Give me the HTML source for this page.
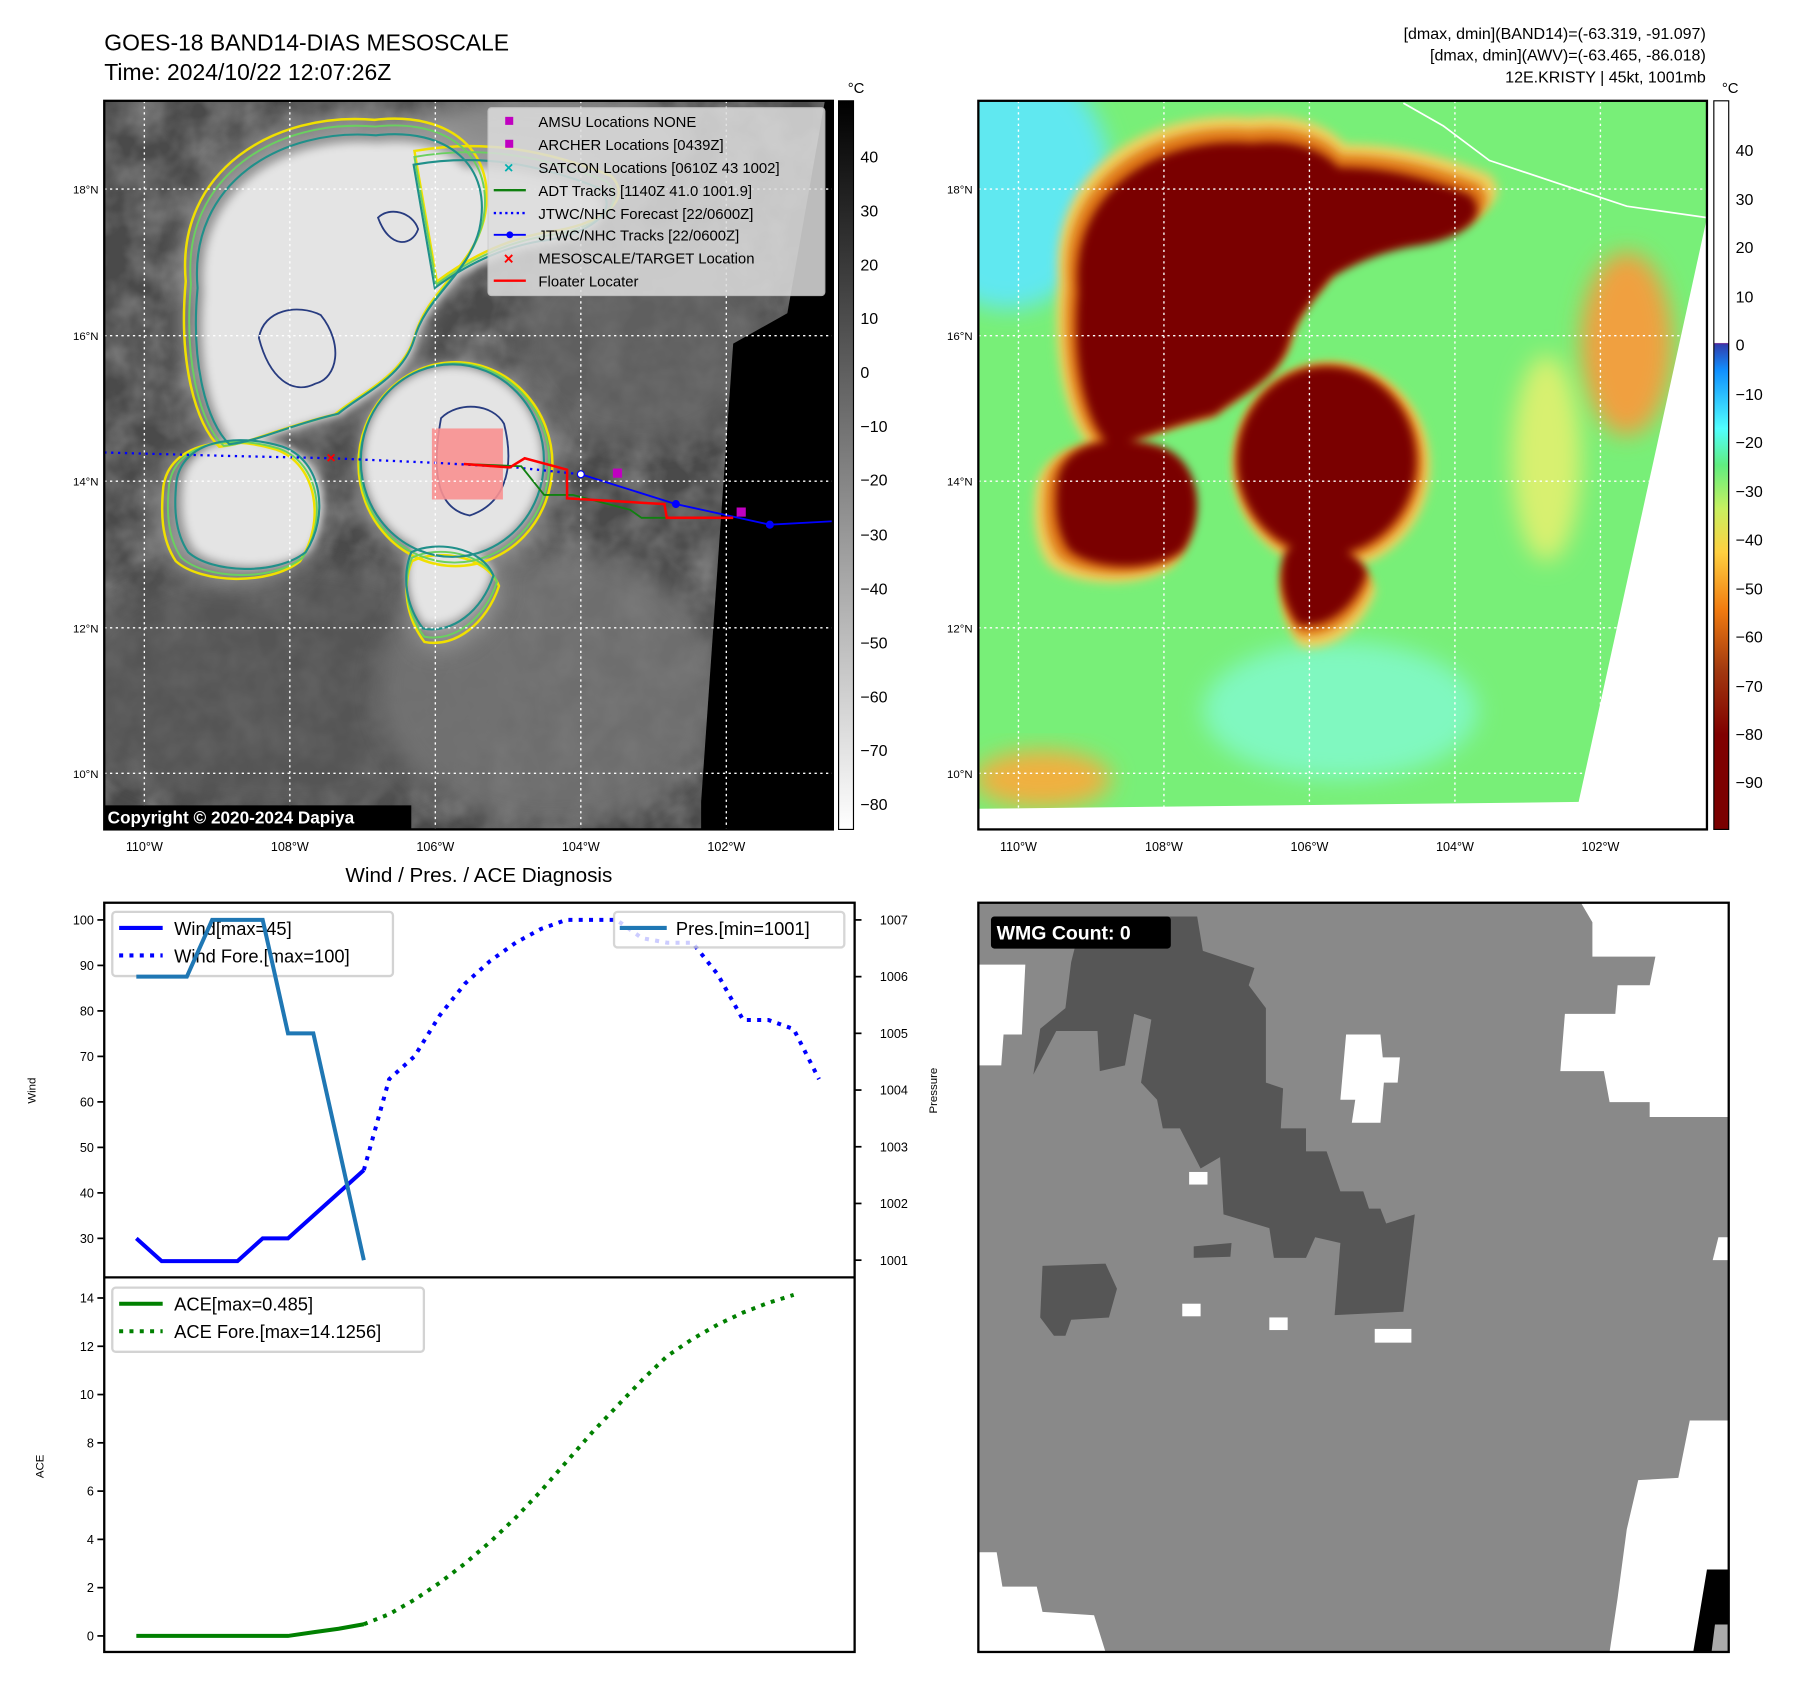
<!DOCTYPE html>
<html><head><meta charset="utf-8"><style>
html,body{margin:0;padding:0;background:#fff}
svg{display:block;font-family:"Liberation Sans","DejaVu Sans",sans-serif}
</style></head><body>
<svg id="root" width="1797" height="1690" viewBox="0 0 1568.6 1475" preserveAspectRatio="xMinYMin meet" xmlns="http://www.w3.org/2000/svg">
<defs>
<filter id="blur4" x="-20%" y="-20%" width="140%" height="140%"><feGaussianBlur stdDeviation="4"/></filter>
<filter id="blur10" x="-30%" y="-30%" width="160%" height="160%"><feGaussianBlur stdDeviation="10"/></filter>
<filter id="noise" x="0" y="0" width="100%" height="100%"><feTurbulence type="fractalNoise" baseFrequency="0.035" numOctaves="3" seed="4"/><feColorMatrix type="matrix" values="0 0 0 0 0.5  0 0 0 0 0.5  0 0 0 0 0.5  1.2 0 0 0 -0.35"/></filter>
<clipPath id="clipL"><rect x="91" y="88" width="636" height="636"/></clipPath>
<clipPath id="clipR"><rect x="854" y="88" width="636" height="636"/></clipPath>
<clipPath id="clipB"><rect x="854" y="788" width="655" height="654"/></clipPath>
<linearGradient id="cbGray" x1="0" y1="0" x2="0" y2="1"><stop offset="0" stop-color="#000"/><stop offset="1" stop-color="#fff"/></linearGradient>
<linearGradient id="cbColor" x1="0" y1="1" x2="0" y2="0">
<stop offset="0" stop-color="#7a0000"/><stop offset="0.13" stop-color="#800000"/><stop offset="0.22" stop-color="#a33a10"/><stop offset="0.3" stop-color="#f07a10"/><stop offset="0.38" stop-color="#ffd040"/><stop offset="0.44" stop-color="#c8f060"/><stop offset="0.5" stop-color="#60ee80"/><stop offset="0.55" stop-color="#50ffff"/><stop offset="0.63" stop-color="#1090ff"/><stop offset="0.665" stop-color="#3040b0"/><stop offset="0.667" stop-color="#602090"/><stop offset="0.668" stop-color="#fff"/><stop offset="1" stop-color="#fff"/></linearGradient>
<g id="cloudMain">
<path d="M178,255 C170,165 250,118 330,125 C390,118 430,150 418,205 C408,245 372,262 362,300 C352,332 318,345 298,362 C255,372 232,385 205,388 C186,370 172,320 178,255 Z"/>
<path d="M362,150 C420,140 470,150 520,170 C540,190 510,210 470,215 C430,222 400,240 380,255 Z"/>
<path d="M160,420 C165,385 210,378 250,390 C285,402 290,450 270,480 C245,500 190,498 170,480 C158,462 158,440 160,420 Z"/>
<ellipse cx="395" cy="402" rx="78" ry="82"/>
<path d="M360,480 C380,470 420,475 430,500 C420,530 395,550 370,545 C355,525 352,500 360,480 Z"/>
</g>
</defs>

<text x="91" y="44" font-size="20" fill="#000">GOES-18 BAND14-DIAS MESOSCALE</text>
<text x="91" y="70" font-size="20" fill="#000">Time: 2024/10/22 12:07:26Z</text>
<g font-size="14" text-anchor="end" fill="#000">
<text x="1489" y="34">[dmax, dmin](BAND14)=(-63.319, -91.097)</text>
<text x="1489" y="53">[dmax, dmin](AWV)=(-63.465, -86.018)</text>
<text x="1489" y="72">12E.KRISTY | 45kt, 1001mb</text>
</g>

<!-- LEFT MAP -->
<g clip-path="url(#clipL)">
<rect x="91" y="88" width="636" height="636" fill="#4a4a4a"/>
<rect x="91" y="88" width="636" height="636" filter="url(#noise)" opacity="0.6"/>
<ellipse cx="250" cy="600" rx="200" ry="110" fill="#5a5a5a" filter="url(#blur10)" opacity="0.7"/>
<ellipse cx="480" cy="600" rx="150" ry="120" fill="#777" filter="url(#blur10)" opacity="0.8"/>
<ellipse cx="560" cy="300" rx="110" ry="90" fill="#686868" filter="url(#blur10)" opacity="0.7"/>
<ellipse cx="480" cy="120" rx="120" ry="40" fill="#8a8a8a" filter="url(#blur10)"/>
<use href="#cloudMain" fill="#9a9a9a" transform="translate(-35,-35) scale(1.1)" filter="url(#blur10)"/>
<use href="#cloudMain" fill="#e4e4e4" filter="url(#blur4)"/>
<use href="#cloudMain" fill="none" stroke="#f0e000" stroke-width="2" transform="translate(-31,-31) scale(1.085)"/>
<use href="#cloudMain" fill="none" stroke="#6ad060" stroke-width="1.6" transform="translate(-22,-22) scale(1.06)"/>
<use href="#cloudMain" fill="none" stroke="#20908a" stroke-width="1.8" transform="translate(-10,-10) scale(1.025)"/>
<path d="M226,295 C230,270 260,265 280,275 C300,300 295,330 275,335 C255,345 235,330 226,295 Z" fill="none" stroke="#283c80" stroke-width="1.6"/>
<path d="M385,365 C400,350 430,352 440,370 C450,410 440,440 410,450 C385,445 375,420 385,365 Z" fill="none" stroke="#283c80" stroke-width="1.6"/>
<path d="M330,190 C340,180 360,185 365,200 C360,215 340,218 330,190 Z" fill="none" stroke="#283c80" stroke-width="1.6"/>
<polygon points="720,88 727,88 727,724 612,724 612,700" fill="#000"/>
<polygon points="640,300 720,255 612,700" fill="#000"/>
<rect x="377" y="374" width="62" height="62" fill="#f89090" opacity="0.9"/>
<polyline points="91,395 200,398 290,400 380,404 450,408 507,414" fill="none" stroke="#0000ff" stroke-width="2" stroke-dasharray="2,4"/>
<polyline points="507,414 590,440 672,458 727,455" fill="none" stroke="#0000ff" stroke-width="1.6"/>
<circle cx="507" cy="414" r="3" fill="#fff" stroke="#00f"/>
<circle cx="590" cy="440" r="3.5" fill="#00f"/><circle cx="672" cy="458" r="3.5" fill="#00f"/>
<polyline points="405,405 455,407 475,432 500,432 550,445 560,452 620,452" fill="none" stroke="#108010" stroke-width="1.6"/>
<polyline points="405,405 445,408 458,400 495,410 495,435 580,440 582,452 640,452" fill="none" stroke="#ff0000" stroke-width="2.2"/>
<text x="289" y="404" font-size="14" fill="#f00" text-anchor="middle" font-weight="bold">×</text>
<rect x="535" y="409" width="8" height="8" fill="#c000c0"/><rect x="643" y="443" width="8" height="8" fill="#c000c0"/>
<g stroke="#fff" stroke-width="1.2" stroke-dasharray="2,3">
<line x1="91" y1="165" x2="727" y2="165"/><line x1="91" y1="293" x2="727" y2="293"/><line x1="91" y1="420" x2="727" y2="420"/><line x1="91" y1="548" x2="727" y2="548"/><line x1="91" y1="675" x2="727" y2="675"/>
<line x1="126" y1="88" x2="126" y2="724"/><line x1="253" y1="88" x2="253" y2="724"/><line x1="380" y1="88" x2="380" y2="724"/><line x1="507" y1="88" x2="507" y2="724"/><line x1="634" y1="88" x2="634" y2="724"/>
</g>
<g>
<rect x="426" y="94" width="294" height="164" fill="#ddd" opacity="0.85" stroke="#ccc" rx="3"/>
<g font-size="13" fill="#000">
<rect x="441" y="102" width="7" height="7" fill="#c000c0"/><text x="470" y="111">AMSU Locations NONE</text>
<rect x="441" y="122" width="7" height="7" fill="#c000c0"/><text x="470" y="131">ARCHER Locations [0439Z]</text>
<text x="444" y="151" fill="#00b0b0" text-anchor="middle" font-weight="bold" font-size="14">×</text><text x="470" y="151">SATCON Locations [0610Z 43 1002]</text>
<line x1="431" y1="166" x2="459" y2="166" stroke="#108010" stroke-width="2"/><text x="470" y="171">ADT Tracks [1140Z 41.0 1001.9]</text>
<line x1="431" y1="186" x2="459" y2="186" stroke="#00f" stroke-width="2" stroke-dasharray="2,3"/><text x="470" y="191">JTWC/NHC Forecast [22/0600Z]</text>
<line x1="431" y1="205" x2="459" y2="205" stroke="#00f" stroke-width="1.6"/><circle cx="445" cy="205" r="3" fill="#00f"/><text x="470" y="210">JTWC/NHC Tracks [22/0600Z]</text>
<text x="444" y="231" fill="#f00" text-anchor="middle" font-weight="bold" font-size="15">×</text><text x="470" y="230">MESOSCALE/TARGET Location</text>
<line x1="431" y1="245" x2="459" y2="245" stroke="#f00" stroke-width="2"/><text x="470" y="250">Floater Locater</text>
</g></g>
<rect x="91" y="703" width="268" height="21" fill="#000"/>
<text x="94" y="719" font-size="15" font-weight="bold" fill="#fff">Copyright © 2020-2024 Dapiya</text>
</g>
<rect x="91" y="88" width="636" height="636" fill="none" stroke="#000" stroke-width="2"/>

<g font-size="10" fill="#000" text-anchor="end">
<text x="86" y="169">18°N</text><text x="86" y="297">16°N</text><text x="86" y="424">14°N</text><text x="86" y="552">12°N</text><text x="86" y="679">10°N</text>
</g>
<g font-size="11" fill="#000" text-anchor="middle">
<text x="126" y="743">110°W</text><text x="253" y="743">108°W</text><text x="380" y="743">106°W</text><text x="507" y="743">104°W</text><text x="634" y="743">102°W</text>
</g>
<g>
<rect x="732" y="88" width="13" height="636" fill="url(#cbGray)" stroke="#000"/>
<text x="740" y="81" font-size="13">°C</text>
<g font-size="14" fill="#000">
<text x="751" y="142">40</text><text x="751" y="189">30</text><text x="751" y="236">20</text><text x="751" y="283">10</text><text x="751" y="330">0</text><text x="751" y="377">−10</text><text x="751" y="424">−20</text><text x="751" y="472">−30</text><text x="751" y="519">−40</text><text x="751" y="566">−50</text><text x="751" y="613">−60</text><text x="751" y="660">−70</text><text x="751" y="707">−80</text>
</g></g>

<!-- RIGHT MAP -->
<g clip-path="url(#clipR)">
<rect x="854" y="88" width="636" height="636" fill="#78ef78"/>
<ellipse cx="880" cy="160" rx="90" ry="110" fill="#60e8f0" filter="url(#blur10)"/>
<ellipse cx="1170" cy="620" rx="120" ry="60" fill="#80f8c0" filter="url(#blur10)"/>
<ellipse cx="1420" cy="300" rx="40" ry="80" fill="#f0a040" filter="url(#blur10)"/>
<ellipse cx="1350" cy="400" rx="30" ry="90" fill="#d8f070" filter="url(#blur10)"/>
<ellipse cx="910" cy="680" rx="60" ry="25" fill="#f0b040" filter="url(#blur10)"/>
<g transform="translate(763,0)">
<use href="#cloudMain" fill="#f0d060" transform="translate(-35,-35) scale(1.1)" filter="url(#blur4)"/>
<use href="#cloudMain" fill="#e07818" transform="translate(-18,-18) scale(1.05)" filter="url(#blur4)"/>
<use href="#cloudMain" fill="#7a0000" filter="url(#blur4)"/>
</g>
<polygon points="1490,190 1490,724 1378,724 1378,700" fill="#fff"/>
<polygon points="854,706 1380,700 1380,724 854,724" fill="#fff"/>
<polyline points="1225,90 1260,110 1300,140 1360,160 1420,180 1490,190" fill="none" stroke="#fff" stroke-width="1.5"/>
<g stroke="#fff" stroke-width="1.2" stroke-dasharray="2,3">
<line x1="854" y1="165" x2="1490" y2="165"/><line x1="854" y1="293" x2="1490" y2="293"/><line x1="854" y1="420" x2="1490" y2="420"/><line x1="854" y1="548" x2="1490" y2="548"/><line x1="854" y1="675" x2="1490" y2="675"/>
<line x1="889" y1="88" x2="889" y2="724"/><line x1="1016" y1="88" x2="1016" y2="724"/><line x1="1143" y1="88" x2="1143" y2="724"/><line x1="1270" y1="88" x2="1270" y2="724"/><line x1="1397" y1="88" x2="1397" y2="724"/>
</g>
</g>
<rect x="854" y="88" width="636" height="636" fill="none" stroke="#000" stroke-width="2"/>
<g font-size="10" fill="#000" text-anchor="end">
<text x="849" y="169">18°N</text><text x="849" y="297">16°N</text><text x="849" y="424">14°N</text><text x="849" y="552">12°N</text><text x="849" y="679">10°N</text>
</g>
<g font-size="11" fill="#000" text-anchor="middle">
<text x="889" y="743">110°W</text><text x="1016" y="743">108°W</text><text x="1143" y="743">106°W</text><text x="1270" y="743">104°W</text><text x="1397" y="743">102°W</text>
</g>
<g>
<rect x="1496" y="88" width="13" height="636" fill="url(#cbColor)" stroke="#000"/>
<text x="1503" y="81" font-size="13">°C</text>
<g font-size="14" fill="#000">
<text x="1515" y="136">40</text><text x="1515" y="179">30</text><text x="1515" y="221">20</text><text x="1515" y="264">10</text><text x="1515" y="306">0</text><text x="1515" y="349">−10</text><text x="1515" y="391">−20</text><text x="1515" y="434">−30</text><text x="1515" y="476">−40</text><text x="1515" y="519">−50</text><text x="1515" y="561">−60</text><text x="1515" y="604">−70</text><text x="1515" y="646">−80</text><text x="1515" y="688">−90</text>
</g></g>

<!-- BOTTOM RIGHT WMG -->
<g clip-path="url(#clipB)">
<rect x="854" y="788" width="655" height="654" fill="#898989"/>
<polygon points="854,842 895,842 892,903 876,903 874,930 854,930" fill="#fff"/>
<polygon points="1380,788 1509,788 1509,975 1440,975 1440,962 1405,962 1400,935 1362,935 1366,885 1410,885 1412,860 1440,860 1445,835 1390,835 1390,805" fill="#fff"/>
<polygon points="1175,903 1205,903 1207,923 1222,923 1220,945 1208,945 1205,980 1180,980 1183,960 1170,960" fill="#fff"/>
<polygon points="854,1355 870,1355 875,1385 905,1385 910,1407 955,1410 965,1442 854,1442" fill="#fff"/>
<polygon points="1509,1080 1500,1080 1495,1100 1509,1100" fill="#fff"/>
<polygon points="1509,1240 1475,1240 1465,1290 1430,1292 1420,1335 1412,1395 1405,1442 1509,1442" fill="#fff"/>
<polygon points="1490,1370 1509,1370 1509,1442 1478,1442" fill="#000"/>
<polygon points="1497,1418 1509,1418 1509,1442 1494,1442" fill="#aaa"/>
<g fill="#565656">
<polygon points="945,800 1045,800 1050,830 1095,845 1090,860 1105,880 1105,945 1120,950 1118,985 1140,985 1140,1005 1158,1005 1170,1040 1190,1040 1195,1055 1205,1055 1210,1068 1235,1060 1225,1145 1165,1148 1170,1085 1148,1080 1140,1098 1112,1098 1108,1072 1068,1060 1065,1010 1048,1020 1030,985 1015,985 1010,960 996,945 1005,890 990,885 982,930 960,935 958,900 922,900 902,938 908,898 930,880 935,840"/>
<polygon points="910,1105 965,1103 975,1125 968,1150 935,1152 930,1166 920,1166 908,1150"/>
<polygon points="1042,1088 1075,1085 1074,1097 1042,1098"/>
</g>
<g fill="#fff"><rect x="1038" y="1023" width="16" height="11"/><rect x="1032" y="1138" width="16" height="11"/><rect x="1108" y="1150" width="16" height="11"/><rect x="1200" y="1160" width="32" height="12"/></g>
<rect x="865" y="800" width="157" height="28" rx="3" fill="#000"/>
<text x="870" y="820" font-size="17" font-weight="bold" fill="#fff">WMG Count: 0</text>
</g>
<rect x="854" y="788" width="655" height="654" fill="none" stroke="#000" stroke-width="2"/>

<!-- BOTTOM LEFT CHART -->
<text x="418" y="770" font-size="18" text-anchor="middle">Wind / Pres. / ACE Diagnosis</text>
<g id="diag"></g>
<rect x="91" y="788" width="655" height="654" fill="none" stroke="#000" stroke-width="2"/>
<line x1="91" y1="1115" x2="746" y2="1115" stroke="#000" stroke-width="2"/>
<text transform="translate(31,952) rotate(-90)" font-size="10" text-anchor="middle">Wind</text>
<text transform="translate(818,952) rotate(-90)" font-size="10" text-anchor="middle">Pressure</text>
<text transform="translate(38,1280) rotate(-90)" font-size="10" text-anchor="middle">ACE</text>
<g>
<rect x="98" y="796" width="245" height="56" rx="3" fill="#fff" stroke="#ccc" stroke-width="2" opacity="0.85"/>
<line x1="104" y1="810" x2="142" y2="810" stroke="#00f" stroke-width="3.5"/>
<line x1="104" y1="834" x2="142" y2="834" stroke="#00f" stroke-width="3.5" stroke-dasharray="3.5,5.5"/>
<text x="152" y="816" font-size="16">Wind[max=45]</text><text x="152" y="840" font-size="16">Wind Fore.[max=100]</text>
</g>
<g id="presG"></g>
<g>
<rect x="536" y="796" width="201" height="31" rx="3" fill="#fff" stroke="#ccc" stroke-width="2" opacity="0.8"/>
<line x1="541" y1="810" x2="582" y2="810" stroke="#1f77b4" stroke-width="3.5"/>
<text x="590" y="816" font-size="16">Pres.[min=1001]</text>
</g>
<g>
<rect x="98" y="1124" width="272" height="56" rx="3" fill="#fff" stroke="#ccc" stroke-width="2" opacity="0.85"/>
<line x1="104" y1="1138" x2="142" y2="1138" stroke="#008000" stroke-width="3.5"/>
<line x1="104" y1="1162" x2="142" y2="1162" stroke="#008000" stroke-width="3.5" stroke-dasharray="3.5,5.5"/>
<text x="152" y="1144" font-size="16">ACE[max=0.485]</text><text x="152" y="1168" font-size="16">ACE Fore.[max=14.1256]</text>
</g>
</svg>
<script>
const windObs = [30,25,25,25,25,30,30,35,40,45];
const windFore = [45,65,70,79,86,91,95,98,100,100,100,96,95,95,88,78,78,76,65];
const presObs = [1006,1006,1006,1007,1007,1007,1005,1005,1003,1001];
const aceObs = [0,0,0,0,0,0,0,0.15,0.3,0.485];
const aceFore = [0.485,0.9,1.5,2.2,3.0,3.9,4.9,6.0,7.2,8.4,9.5,10.6,11.6,12.3,12.9,13.4,13.8,14.13];
const windTicks = [30,40,50,60,70,80,90,100];
const presTicks = [1001,1002,1003,1004,1005,1006,1007];
const aceTicks = [0,2,4,6,8,10,12,14];

const NS='http://www.w3.org/2000/svg';
const g=document.getElementById('diag');
const pg=document.getElementById('presG');
function xS(i){return 119+22.07*i;}
function yW(v){return 803+(100-v)*3.971;}
function yP(p){return 1100-(p-1001)*49.5;}
function yA(a){return 1428-a*21.07;}
function mk(tag,attrs,parent){const e=document.createElementNS(NS,tag);for(const k in attrs)e.setAttribute(k,attrs[k]);(parent||g).appendChild(e);return e;}
function line(vals,off,yf,color,dash,name,parent){
  const pts=vals.map((v,i)=>xS(i+off).toFixed(1)+','+yf(v).toFixed(1)).join(' ');
  const e=mk('polyline',{points:pts,fill:'none',stroke:color,'stroke-width':3.5},parent);
  if(dash)e.setAttribute('stroke-dasharray',dash);
  
  
}
function ticks(arr,yf,side){
  arr.forEach(t=>{
    const y=yf(t);
    const x0=side==='l'?91:746, dx=side==='l'?-6:6;
    mk('line',{x1:x0,y1:y,x2:x0+dx,y2:y,stroke:'#000','stroke-width':1.5});
    const tx=mk('text',{x:side==='l'?82:768,y:y+4,'font-size':11,'text-anchor':side==='l'?'end':'start'});
    tx.textContent=String(t);
    
    
  });
}
ticks(windTicks,yW,'l');
ticks(presTicks,yP,'r');
ticks(aceTicks,yA,'l');
line(windFore,9,yW,'#0000ff','3.5,5.5','wind-forecast-line');
line(windObs,0,yW,'#0000ff',null,'wind-line');
line(presObs,0,yP,'#1f77b4',null,'pressure-line',pg);
line(aceFore,9,yA,'#008000','3.5,5.5','ace-forecast-line');
line(aceObs,0,yA,'#008000',null,'ace-line');
</script>
</body></html>
